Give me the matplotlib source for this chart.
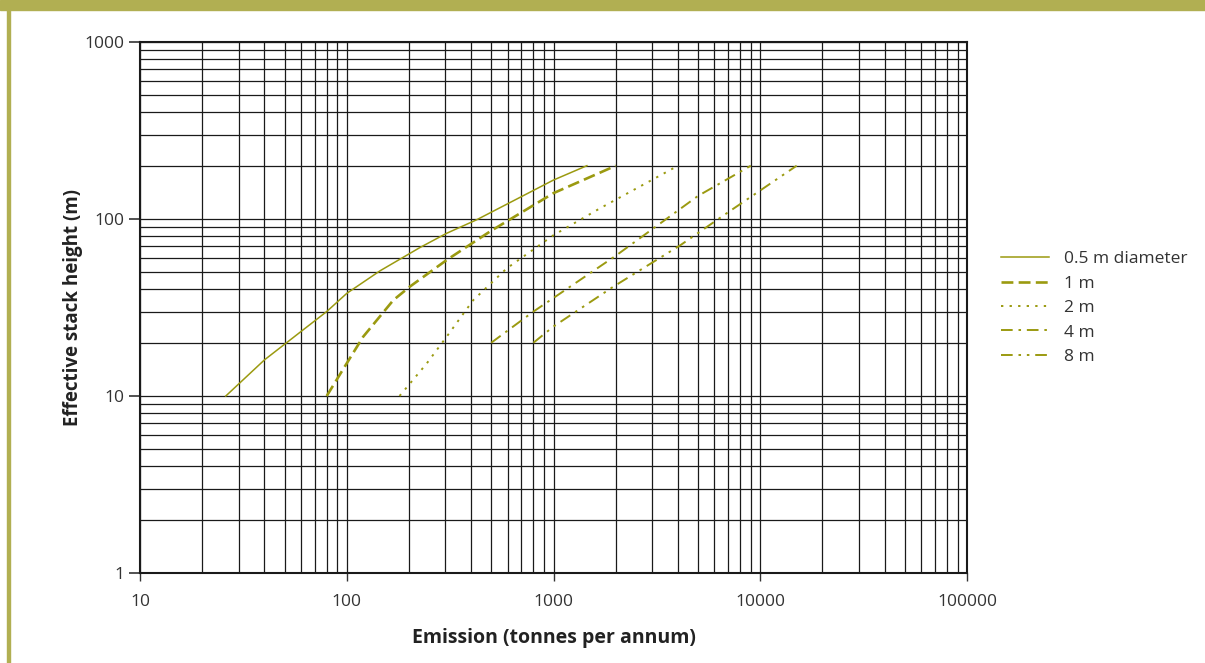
import matplotlib
matplotlib.use("Agg")
import matplotlib.pyplot as plt
from matplotlib.ticker import LogLocator, NullFormatter, FixedLocator, FixedFormatter

# -----------------------------
# Curve data (emission vs effective stack height)
# -----------------------------
d05_x = [26, 40, 80, 100, 145, 226, 304, 425, 1000, 1450]
d05_y = [10, 16, 30, 38, 51, 69, 83, 99, 166, 200]

d1_x = [80, 100, 120, 168, 202, 304, 493, 1000, 2000]
d1_y = [10, 15.3, 21.6, 34.8, 41.5, 58.6, 85, 140, 200]

d2_x = [180, 244, 304, 409, 594, 1000, 1680, 4000]
d2_y = [10, 15.3, 21.6, 34.8, 52.6, 81, 115, 200]

d4_x = [500, 800, 2000, 5000, 9000]
d4_y = [20, 30, 62, 135, 200]

d8_x = [800, 1000, 1950, 4100, 6900, 15000]
d8_y = [20, 24.7, 41.5, 71, 108, 200]

labels = ["0.5 m diameter", "1 m", "2 m", "4 m", "8 m"]

x_ticks = [10, 100, 1000, 10000, 100000]
y_ticks = [1, 10, 100, 1000]

# -----------------------------
# Style
# -----------------------------
olive = "#B1AF52"
curve = "#9B9A10"
plt.rcParams["font.family"] = ["Open Sans", "DejaVu Sans"]

fig = plt.figure(figsize=(12.05, 6.63), dpi=100)

# header band and left border
fig.patches.append(plt.Rectangle((0, 1 - 10 / 663), 1, 10 / 663,
                                 transform=fig.transFigure, color=olive, zorder=0))
fig.patches.append(plt.Rectangle((7 / 1205, 0), 2.5 / 1205, 1,
                                 transform=fig.transFigure, color=olive, zorder=0))

ax = fig.add_axes([140 / 1205, 1 - 573 / 663, 827 / 1205, 531 / 663])
ax.set_xscale("log")
ax.set_yscale("log")
ax.set_xlim(10, 100000)
ax.set_ylim(1, 1000)

# -----------------------------
# Curves
# -----------------------------
ax.plot(d05_x, d05_y, color=curve, lw=1.1, ls="-", label=labels[0], zorder=3)
ax.plot(d1_x, d1_y, color=curve, lw=1.9, ls=(0, (4.5, 2)), label=labels[1], zorder=3)
ax.plot(d2_x, d2_y, color=curve, lw=1.4, ls=(0, (1.2, 3.2)), label=labels[2], zorder=3)
ax.plot(d4_x, d4_y, color=curve, lw=1.4, ls=(0, (6, 3, 1.3, 3)), label=labels[3], zorder=3)
ax.plot(d8_x, d8_y, color=curve, lw=1.4, ls=(0, (6, 3, 1.3, 3, 1.3, 3)), label=labels[4], zorder=3)

# -----------------------------
# Grid, ticks and labels
# -----------------------------
ax.xaxis.set_major_locator(FixedLocator(x_ticks))
ax.xaxis.set_major_formatter(FixedFormatter([str(v) for v in x_ticks]))
ax.yaxis.set_major_locator(FixedLocator(y_ticks))
ax.yaxis.set_major_formatter(FixedFormatter([str(v) for v in y_ticks]))
ax.xaxis.set_minor_locator(LogLocator(base=10, subs=range(2, 10)))
ax.yaxis.set_minor_locator(LogLocator(base=10, subs=range(2, 10)))
ax.xaxis.set_minor_formatter(NullFormatter())
ax.yaxis.set_minor_formatter(NullFormatter())

ax.grid(True, which="both", color="#1a1a1a", lw=0.9)
ax.set_axisbelow(True)

ax.tick_params(axis="y", which="major", length=8, width=1.2, direction="out",
               labelsize=12.5, colors="#333333", pad=3)
ax.tick_params(axis="x", which="major", length=6, width=1.0, direction="out",
               labelsize=12.5, colors="#333333", pad=9)
ax.tick_params(which="minor", length=0)

for s in ax.spines.values():
    s.set_color("#1a1a1a")
    s.set_linewidth(1.5)

ax.set_xlabel("Emission (tonnes per annum)", fontsize=14, fontweight="bold",
              color="#222222", labelpad=13)
ax.set_ylabel("Effective stack height (m)", fontsize=13.5, fontweight="bold",
              color="#222222", labelpad=1)

fig.legend(loc="center left", bbox_to_anchor=(992 / 1205, 1 - 308 / 663),
           frameon=False, fontsize=12.5, handlelength=2.76, handletextpad=0.86,
           labelspacing=0.48, borderpad=0, labelcolor="#333333")

plt.savefig("out.png", dpi=100)
plt.close()
